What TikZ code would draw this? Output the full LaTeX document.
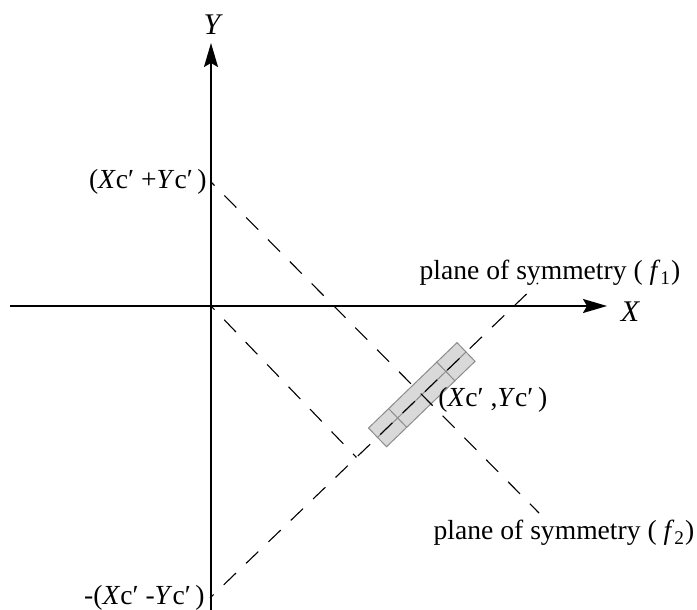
\documentclass[tikz,border=0pt]{standalone}
\usepackage{fontspec}
\setmainfont{Liberation Serif}
\usepackage{tikz}
\usetikzlibrary{arrows.meta,calc}
\definecolor{RodFill}{HTML}{D9D9D9}
\definecolor{RodLine}{HTML}{8C8C8C}
\newcommand{\prm}{\symbol{"2032}}

\begin{document}
\begin{tikzpicture}[x=0.5pt,y=-0.5pt,>={Stealth[length=12pt,width=7pt,inset=2pt]},
    axis/.style={line width=0.9pt},
    symline/.style={line width=0.55pt,dash pattern=on 8.5pt off 7pt,dash phase=6pt},
    lbl/.style={font=\fontsize{13.8}{16}\selectfont,inner sep=1pt},
    axlbl/.style={font=\fontsize{15}{17}\selectfont\itshape,inner sep=1pt}]
    \useasboundingbox (0,0) rectangle (697,610);
    \coordinate (O) at (211,306);
    \coordinate (Xs) at (10,306);
    \coordinate (Xe) at (607,306);
    \coordinate (Ys) at (211,610);
    \coordinate (Ye) at (211,43);
    \coordinate (f1s) at (210,598);
    \coordinate (f1e) at (538,283);
    \coordinate (f2s) at (211,182);
    \coordinate (f2e) at (539,513);
    \coordinate (C) at (intersection of f1s--f1e and f2s--f2e);
    \coordinate (F) at ($(f1s)!(O)!(f1e)$);
    \draw[axis,->] (Xs) -- (Xe);
    \draw[axis,->] (Ys) -- (Ye);
    \node[axlbl] (ylab) at (212,25) {Y};
    \node[axlbl] (xlab) at (630,312) {X};
    \node[rotate=44,draw=RodLine,fill=RodFill,line width=0.5pt,
      minimum width=61.5pt,minimum height=13pt,inner sep=0pt] (rod) at (C) {};
    \draw[RodLine,line width=0.5pt] (rod.west) -- (rod.east);
    \foreach \t in {0.23,0.77}{
      \draw[RodLine,line width=0.5pt] ($(rod.south west)!\t!(rod.south east)$)
        -- ($(rod.north west)!\t!(rod.north east)$);}
    \draw[symline] (f1s) -- (f1e);
    \draw[symline] (f2s) -- (f2e);
    \draw[symline] (O) -- (F);
    \node[lbl,anchor=east,xshift=-1pt] (sumlab) at (f2s)
      {(\textit{X}c\prm\ +\textit{Y}c\prm\,)};
    \node[lbl,anchor=east,xshift=-1.5pt] (difflab) at (f1s)
      {-(\textit{X}c\prm\ -\textit{Y}c\prm\,)};
    \node[lbl,anchor=west] (clab) at (436,400)
      {(\textit{X}c\prm\ ,\textit{Y}c\prm\,)};
    \node[lbl] (f1lab) at (550,273) {plane of symmetry ( \textit{f}\textsubscript{1})};
    \node[lbl] (f2lab) at (564,533) {plane of symmetry ( \textit{f}\textsubscript{2})};
  \end{tikzpicture}
\end{document}
